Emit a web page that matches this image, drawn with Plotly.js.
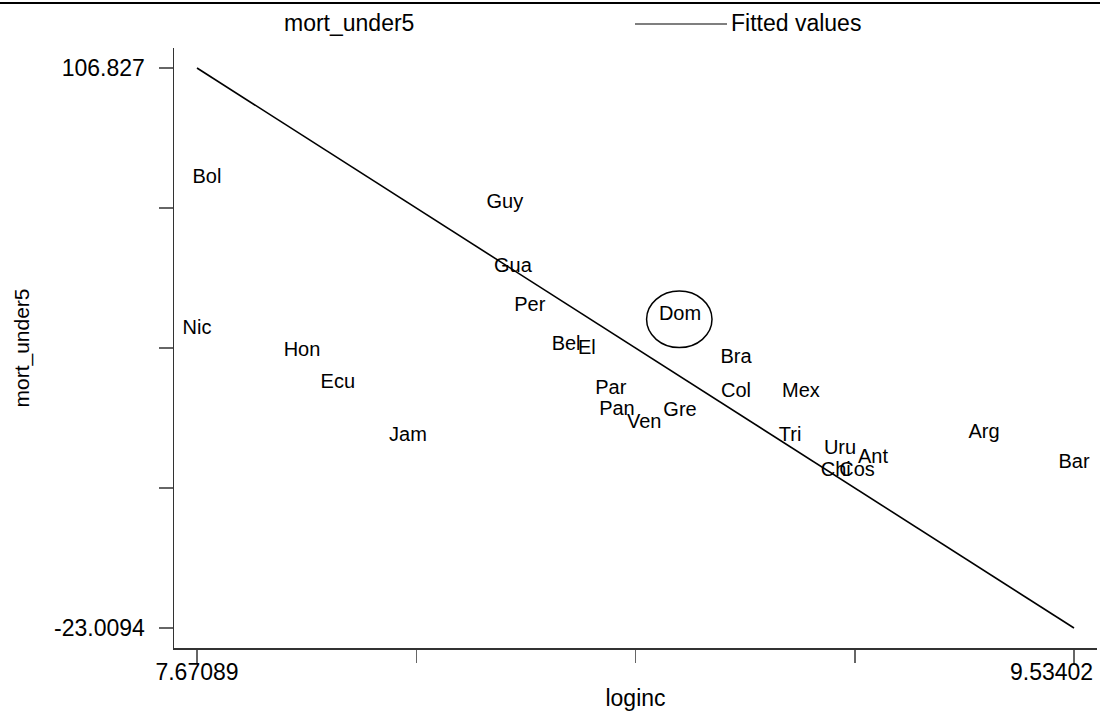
<!DOCTYPE html>
<html>
<head>
<meta charset="utf-8">
<script src="https://cdn.plot.ly/plotly-3.0.1.min.js"></script>
<style>html,body{margin:0;padding:0;background:#fff;}#chart{width:1100px;height:711px;}</style>
</head>
<body>
<div id="chart"></div>
<script>
// Country labels (marker labels) and their values
const countries = ["Bol","Nic","Hon","Ecu","Jam","Guy","Gua","Per","Bel","El","Dom","Bra","Par","Pan","Ven","Gre","Col","Mex","Tri","Uru","Ant","Chi","Cos","Arg","Bar"];
const loginc = [7.692,7.671,7.894,7.970,8.119,8.325,8.342,8.378,8.455,8.499,8.697,8.816,8.550,8.563,8.621,8.697,8.816,8.954,8.931,9.037,9.107,9.028,9.073,9.343,9.534];
const mortUnder5 = [81.3,46.4,41.3,33.7,21.4,75.5,60.6,51.6,42.7,41.6,49.5,39.5,32.5,27.6,24.6,27.4,31.6,31.6,21.4,18.6,16.5,13.5,13.5,22.3,15.3];

// Fitted values (linear fit endpoints)
const fitX = [7.67089, 9.53402];
const fitY = [106.827, -23.0094];

// Axis ticks
const xTickVals = [7.67089, 8.136673, 8.602455, 9.068238, 9.53402];
const xTickText = ["7.67089", "", "", "", "9.53402"];
const yTickVals = [106.827, 74.367, 41.909, 9.450, -23.0094];
const yTickText = ["106.827", "", "", "", "-23.0094"];

const FONT = "Liberation Sans, Arial, sans-serif";
const lastX = xTickVals.length - 1;
// last x tick label is drawn as an annotation, kept inside the figure like the reference
const xTickShown = xTickText.map((t, i) => i === lastX ? "" : t);

const traces = [
  {
    x: loginc, y: mortUnder5, text: countries,
    mode: "text", type: "scatter", name: "mort_under5",
    textposition: "middle center",
    textfont: {family: FONT, size: 20, color: "#000"},
    hoverinfo: "x+y+text", showlegend: false, cliponaxis: false
  },
  {
    x: fitX, y: fitY, mode: "lines", type: "scatter", name: "Fitted values",
    line: {color: "#000", width: 1.6}, showlegend: false
  }
];

// Ellipse around the "Dom" label
const domIdx = countries.indexOf("Dom");
const dx = loginc[domIdx], dy = mortUnder5[domIdx];

const layout = {
  width: 1100, height: 711,
  margin: {l: 174, r: 3, t: 48, b: 63},
  paper_bgcolor: "#fff", plot_bgcolor: "#fff",
  font: {family: FONT, color: "#000"},
  showlegend: false,
  xaxis: {
    range: [7.62203, 9.58288], tickvals: xTickVals, ticktext: xTickShown,
    ticks: "outside", ticklen: 13, tickcolor: "#666", tickwidth: 1.5,
    showline: true, linecolor: "#333", linewidth: 1.5,
    showgrid: false, zeroline: false, ticklabeloverflow: "allow",
    ticklabelstandoff: -10,
    tickfont: {family: FONT, size: 23, color: "#000"},
    title: {text: "loginc", font: {family: FONT, size: 23, color: "#000"}, standoff: 14}
  },
  yaxis: {
    range: [-27.655, 111.472], tickvals: yTickVals, ticktext: yTickText,
    ticks: "outside", ticklen: 14, tickcolor: "#666", tickwidth: 1.5,
    showline: true, linecolor: "#333", linewidth: 1.5,
    showgrid: false, zeroline: false, ticklabelstandoff: 9,
    tickfont: {family: FONT, size: 23, color: "#000"},
    title: {text: "mort_under5", font: {family: FONT, size: 21, color: "#000"}, standoff: 18}
  },
  shapes: [
    {type: "circle", xref: "x", yref: "y",
     x0: dx - 0.071, x1: dx + 0.068, y0: dy - 7.5, y1: dy + 5.6,
     line: {color: "#000", width: 1.5}},
    {type: "line", xref: "paper", yref: "paper",
     x0: (635-174)/923, x1: (727-174)/923, y0: 1 + (48-24)/600, y1: 1 + (48-24)/600,
     line: {color: "#000", width: 1.2}},
    {type: "line", xref: "paper", yref: "paper",
     x0: -174/923, x1: 1 + 3/923, y0: 1 + (48-3)/600, y1: 1 + (48-3)/600,
     line: {color: "#000", width: 2}}
  ],
  annotations: [
    {xref: "paper", yref: "paper", x: (282-174)/923, y: 1 + (48-23)/600,
     text: "mort_under5", showarrow: false, xanchor: "left", yanchor: "middle",
     font: {family: FONT, size: 23, color: "#000"}},
    {xref: "paper", yref: "paper", x: (729-174)/923, y: 1 + (48-23)/600,
     text: "Fitted values", showarrow: false, xanchor: "left", yanchor: "middle",
     font: {family: FONT, size: 23, color: "#000"}},
    {xref: "x", yref: "paper", x: xTickVals[lastX], y: (648-672)/600,
     text: xTickText[lastX], showarrow: false, xanchor: "right", yanchor: "middle",
     xshift: 21, font: {family: FONT, size: 23, color: "#000"}}
  ]
};

Plotly.newPlot("chart", traces, layout, {displayModeBar: false, staticPlot: true});
</script>
</body>
</html>
